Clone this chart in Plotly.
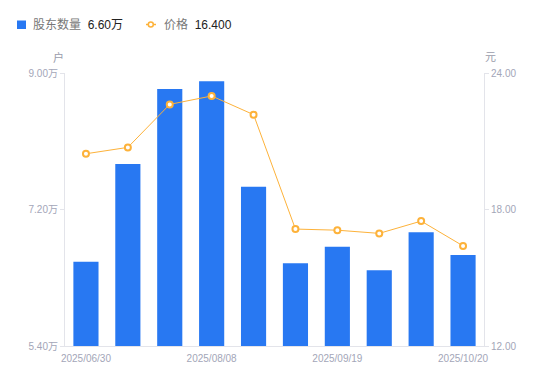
import plotly.graph_objects as go

# ---- data ----
dates = ["2025/06/30", "2025/07/10", "2025/07/31", "2025/08/08", "2025/08/20",
         "2025/08/31", "2025/09/19", "2025/09/30", "2025/10/10", "2025/10/20"]
holders = [6.51, 7.80, 8.79, 8.89, 7.50, 6.49, 6.71, 6.40, 6.90, 6.60]  # 万户
price = [20.45, 20.73, 22.62, 22.99, 22.17, 17.14, 17.09, 16.95, 17.49, 16.40]
x_tick_labels = ["2025/06/30", "2025/08/08", "2025/09/19", "2025/10/20"]
left_ticks = [5.40, 7.20, 9.00]
right_ticks = [12.00, 18.00, 24.00]

OFF = 8  # page body margin
W, H = 550 - 2 * OFF, 381 - 2 * OFF
# plot area in page coordinates: x 65..484, y 73..346
ML, MT = 65 - OFF, 73 - OFF
MR = W - (484 - OFF)
MB = H - (346 - OFF)
PW, PH = W - ML - MR, H - MT - MB

BLUE = "#2878F2"
ORANGE = "#FDB23A"
TICK = "#A3A6B8"
AXIS = "#E3E4EA"
FONT = "Liberation Sans, Noto Sans CJK SC, sans-serif"


def px(x):  # page x -> paper
    return (x - OFF - ML) / PW


def py(y):  # page y -> paper
    return 1 - (y - OFF - MT) / PH


fig = go.Figure()
fig.add_trace(go.Bar(x=dates, y=holders, marker=dict(color=BLUE, line=dict(width=0)),
                     width=0.6, name="股东数量", yaxis="y"))
fig.add_trace(go.Scatter(x=dates, y=price, mode="lines+markers", name="价格", yaxis="y2",
                         line=dict(color=ORANGE, width=1),
                         marker=dict(size=6, color="white", line=dict(color=ORANGE, width=2))))

fig.update_layout(
    width=W, height=H,
    margin=dict(l=ML, r=MR, t=MT, b=MB, pad=0),
    paper_bgcolor="white", plot_bgcolor="white",
    showlegend=False,
    bargap=0.4,
    font=dict(family=FONT, size=10, color=TICK),
    xaxis=dict(type="category", range=[-0.5, len(dates) - 0.5],
               tickmode="array", tickvals=x_tick_labels, ticktext=x_tick_labels,
               showgrid=False, showline=True, linecolor=AXIS, linewidth=1,
               ticks="", ticklabelstandoff=3, automargin=False,
               tickfont=dict(size=10, color=TICK), zeroline=False),
    yaxis=dict(range=[left_ticks[0], left_ticks[-1]], tickmode="array",
               tickvals=left_ticks, ticktext=[f"{v:.2f}万" for v in left_ticks],
               showgrid=False, showline=True, linecolor=AXIS, linewidth=1,
               ticks="outside", ticklen=4, tickcolor=AXIS, automargin=False,
               tickfont=dict(size=10, color=TICK), zeroline=False),
    yaxis2=dict(range=[right_ticks[0], right_ticks[-1]], tickmode="array",
                tickvals=right_ticks, ticktext=[f"{v:.2f}" for v in right_ticks],
                overlaying="y", side="right",
                showgrid=False, showline=True, linecolor=AXIS, linewidth=1,
                ticks="outside", ticklen=4, tickcolor=AXIS, automargin=False,
                tickfont=dict(size=10, color=TICK), zeroline=False),
)

# axis unit titles
for t, xx in (("户", 58), ("元", 490.5)):
    fig.add_annotation(text=t, x=px(xx), y=py(57), xref="paper", yref="paper",
                       xanchor="center", yanchor="middle",
                       showarrow=False, font=dict(size=11, color="#9A9CAB"))

# custom legend
ly = 24.5
fig.add_shape(type="rect", xref="paper", yref="paper",
              x0=px(17), x1=px(26), y0=py(29), y1=py(20.5),
              fillcolor=BLUE, line=dict(width=0))
fig.add_annotation(text=f"股东数量  <span style='color:#222'>{holders[-1]:.2f}万</span>",
                   x=px(31), y=py(ly), xref="paper", yref="paper",
                   xanchor="left", yanchor="middle",
                   showarrow=False, font=dict(size=12, color="#777"))
fig.add_shape(type="line", xref="paper", yref="paper",
              x0=px(146), x1=px(156), y0=py(ly), y1=py(ly),
              line=dict(color=ORANGE, width=1.5))
fig.add_shape(type="circle", xref="paper", yref="paper",
              x0=px(148.3), x1=px(153.3), y0=py(ly + 2.5), y1=py(ly - 2.5),
              fillcolor="white", line=dict(color=ORANGE, width=1.5))
fig.add_annotation(text=f"价格  <span style='color:#222'>{price[-1]:.3f}</span>",
                   x=px(161.5), y=py(ly), xref="paper", yref="paper",
                   xanchor="left", yanchor="middle",
                   showarrow=False, font=dict(size=12, color="#777"))

fig.write_html("out.html")
